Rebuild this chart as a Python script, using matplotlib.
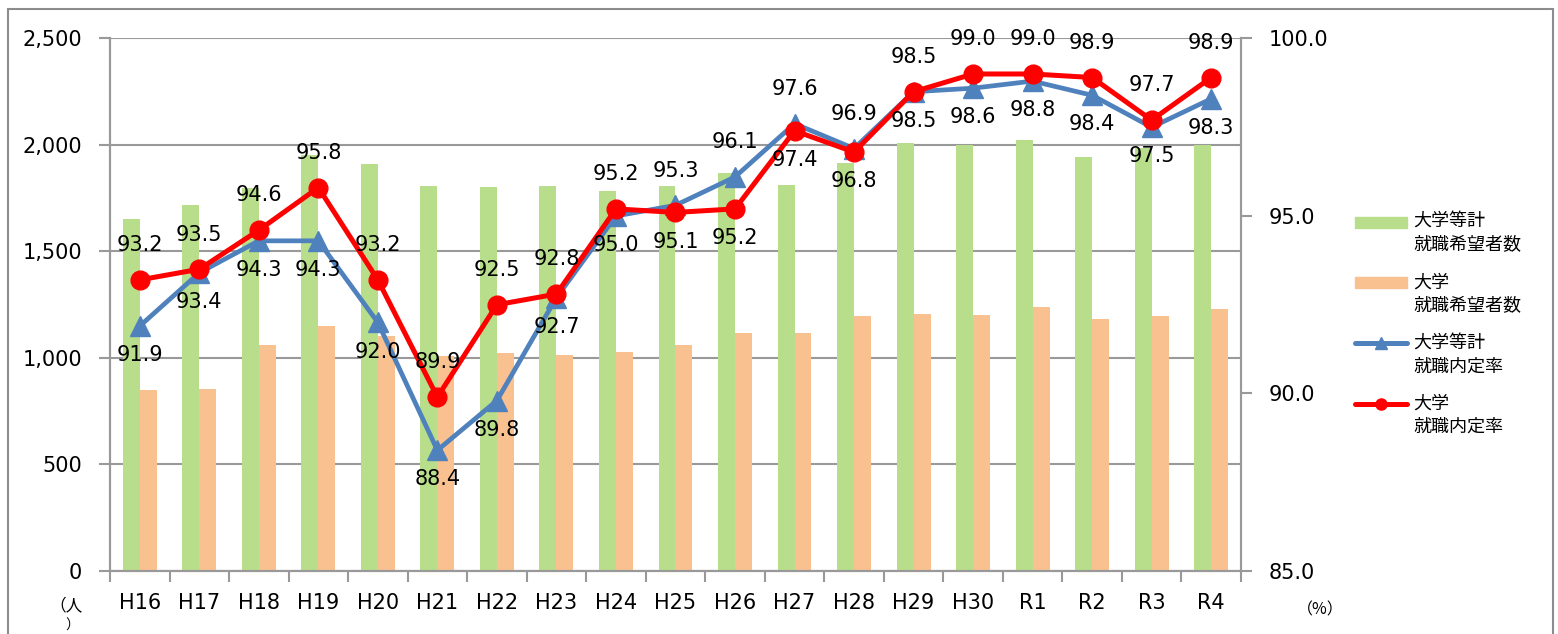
import matplotlib.pyplot as plt
from matplotlib.patches import Rectangle
from matplotlib.lines import Line2D
import numpy as np

plt.rcParams['font.family'] = ['DejaVu Sans', 'Noto Sans CJK JP']

years = ['H16', 'H17', 'H18', 'H19', 'H20', 'H21', 'H22', 'H23', 'H24', 'H25',
         'H26', 'H27', 'H28', 'H29', 'H30', 'R1', 'R2', 'R3', 'R4']
# 就職希望者数 (人)
total_applicants = [1653, 1720, 1796, 1953, 1911, 1808, 1801, 1809, 1786, 1807,
                    1868, 1811, 1915, 2008, 1999, 2024, 1942, 1987, 2001]
univ_applicants = [849, 856, 1061, 1150, 1103, 1009, 1023, 1012, 1027, 1063,
                   1116, 1116, 1196, 1205, 1203, 1240, 1181, 1198, 1232]
# 就職内定率 (%)
total_rate = [91.9, 93.4, 94.3, 94.3, 92.0, 88.4, 89.8, 92.7, 95.0, 95.3,
              96.1, 97.6, 96.9, 98.5, 98.6, 98.8, 98.4, 97.5, 98.3]
univ_rate = [93.2, 93.5, 94.6, 95.8, 93.2, 89.9, 92.5, 92.8, 95.2, 95.1,
             95.2, 97.4, 96.8, 98.5, 99.0, 99.0, 98.9, 97.7, 98.9]

legend_labels = [('大学等計', '就職希望者数'), ('大学', '就職希望者数'),
                 ('大学等計', '就職内定率'), ('大学', '就職内定率')]

GREEN = '#b9de8b'
ORANGE = '#f9c090'
BLUE = '#4f81bd'
RED = '#ff0000'
GRID = '#999999'

fig = plt.figure(figsize=(15.58, 6.34), dpi=100)
ax = fig.add_axes([0.0706, 0.0994, 0.7259, 0.8399])
ax2 = ax.twinx()

x = np.arange(len(years))
w = 0.285
ax.bar(x - w / 2, total_applicants, w, color=GREEN, zorder=2)
ax.bar(x + w / 2, univ_applicants, w, color=ORANGE, zorder=2)

ax.set_xlim(-0.5, len(years) - 0.5)
ax.set_ylim(0, 2500)
ax.set_yticks(range(0, 2501, 500))
ax.set_yticklabels([f'{v:,}' for v in range(0, 2501, 500)])
ax.yaxis.grid(True, color=GRID, lw=1.5)
ax.set_axisbelow(True)

ax.set_xticks(np.arange(-0.5, len(years), 1))
ax.set_xticklabels([])
ax.set_xticks(x, minor=True)
ax.set_xticklabels(years, minor=True)
ax.tick_params(axis='x', which='major', length=8, width=1.5, color=GRID, direction='out')
ax.tick_params(axis='x', which='minor', length=0, pad=16, labelsize=15)
ax.tick_params(axis='y', length=8, width=1.5, color=GRID, pad=12, labelsize=15)

for a in (ax, ax2):
    a.spines['top'].set_visible(False)
    for s in ('left', 'right', 'bottom'):
        a.spines[s].set_color(GRID)
        a.spines[s].set_linewidth(1.5)

ax2.plot(x, total_rate, color=BLUE, lw=3.4, marker='^', ms=14, zorder=3)
ax2.plot(x, univ_rate, color=RED, lw=3.6, marker='o', ms=13.5, zorder=4)
ax2.set_ylim(85, 100)
ax2.set_yticks([85, 90, 95, 100])
ax2.set_yticklabels([f'{v:.1f}' for v in [85, 90, 95, 100]])
ax2.tick_params(axis='y', length=8, width=1.5, color=GRID, pad=12, labelsize=15)

# data labels: higher point labelled above, lower point below
for i in range(len(years)):
    b, r = total_rate[i], univ_rate[i]
    r_up = r >= b
    ax2.annotate(f'{r:.1f}', (i, r), xytext=(0, 25 if r_up else -21),
                 textcoords='offset points', ha='center', va='center',
                 fontsize=15, zorder=5)
    ax2.annotate(f'{b:.1f}', (i, b), xytext=(0, -21 if r_up else 25),
                 textcoords='offset points', ha='center', va='center',
                 fontsize=15, zorder=5)

# legend drawn by hand so the key sits on the first text line
W, H = 1558, 634
keys = [('patch', GREEN), ('patch', ORANGE), ('line', BLUE), ('line', RED)]
markers = [None, None, '^', 'o']
for k, ((kind, col), (l1, l2)) in enumerate(zip(keys, legend_labels)):
    yc = 222 + k * 60.7
    if kind == 'patch':
        fig.patches.append(Rectangle((1355 / W, 1 - (yc + 5.5) / H), 52 / W, 11 / H,
                                     transform=fig.transFigure, color=col))
    else:
        fig.lines.append(Line2D([1355 / W, 1407 / W], [1 - yc / H] * 2,
                                transform=fig.transFigure, color=col, lw=3.6,
                                solid_capstyle='round'))
        fig.lines.append(Line2D([1381 / W], [1 - yc / H], transform=fig.transFigure,
                                color=col, marker=markers[k], ms=8, ls='none'))
    fig.text(1413 / W, 1 - yc / H, l1, fontsize=13, va='center', ha='left',
             family=['Noto Sans CJK JP'])
    fig.text(1413 / W, 1 - (yc + 23) / H, l2, fontsize=13, va='center', ha='left',
             family=['Noto Sans CJK JP'])

fig.text(66 / W, 1 - 606 / H, '（人', fontsize=12, va='center', ha='center',
         family=['Noto Sans CJK JP'])
fig.text(72 / W, 1 - 626 / H, '）', fontsize=10, va='center', ha='center',
         family=['Noto Sans CJK JP'])
fig.text(1320 / W, 1 - 610 / H, '（%）', fontsize=11.5, va='center', ha='center',
         family=['Noto Sans CJK JP'])

# outer chart frame
fig.patches.append(Rectangle((8 / W, -0.1), 1545 / W, 1.1 - 9 / H, transform=fig.transFigure,
                             fill=False, edgecolor='#8c8c8c', lw=1.5))

fig.savefig('out.png', dpi=100)
